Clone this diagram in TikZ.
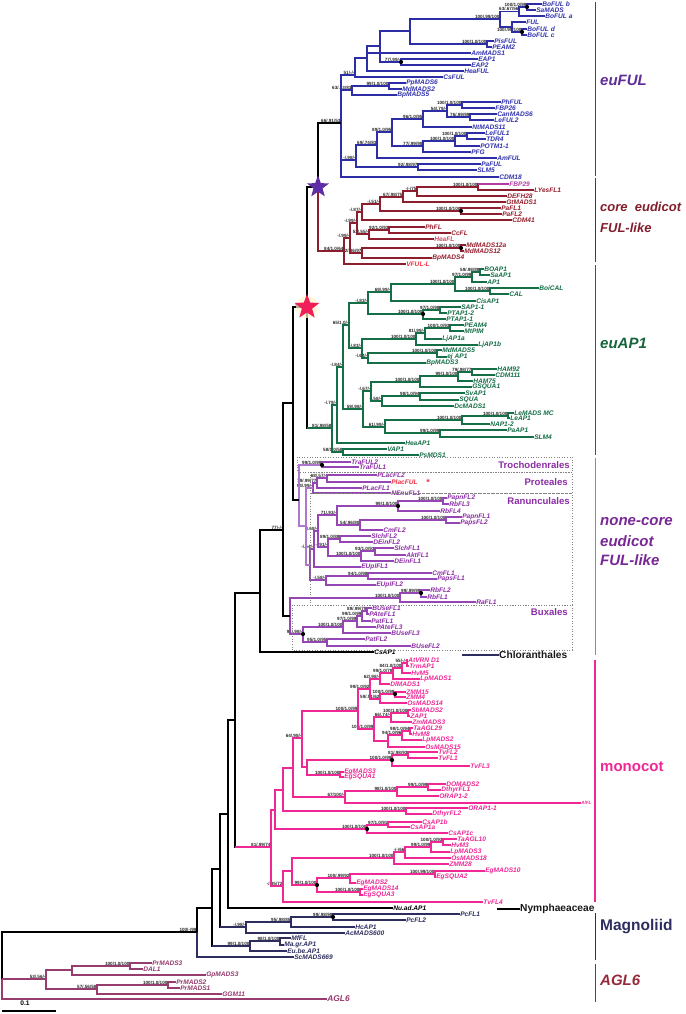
\documentclass[tikz,border=0pt]{standalone}
\usepackage{fontspec}
\setmainfont{Liberation Sans}
\usetikzlibrary{shapes.geometric}
\definecolor{cFUL}{RGB}{45,45,165}
\definecolor{cFULt}{RGB}{50,50,175}
\definecolor{cCore}{RGB}{140,30,45}
\definecolor{cCoreT}{RGB}{150,30,45}
\definecolor{cFBP}{RGB}{180,60,160}
\definecolor{cAP}{RGB}{20,110,70}
\definecolor{cNC}{RGB}{150,70,180}
\definecolor{cNCl}{RGB}{175,120,205}
\definecolor{cNCt}{RGB}{140,45,165}
\definecolor{cMono}{RGB}{240,40,150}
\definecolor{cMag}{RGB}{45,45,95}
\definecolor{cGym}{RGB}{150,60,110}
\definecolor{cRed}{RGB}{240,50,70}
\definecolor{cStarP}{RGB}{95,45,165}
\definecolor{cStarR}{RGB}{240,30,90}
\definecolor{cBox}{RGB}{130,130,130}
\definecolor{cBarNC}{RGB}{160,120,200}
\definecolor{lFUL}{RGB}{95,45,150}
\definecolor{lCore}{RGB}{130,30,45}
\definecolor{lAP}{RGB}{20,100,60}
\definecolor{lNC}{RGB}{120,40,150}
\definecolor{lAGL}{RGB}{150,40,60}
\newcommand\mkn[4]{\coordinate (#1) at (#2,#3);\node[sup] (#1s) at (#2,#3) {#4};}
\newcommand\mkc[3]{\coordinate (#1) at (#2,#3);}
\newcommand\lfn[5][]{\node[lf,#1] (#2) at ({#3-1.5},#4) {#5};}
\newcommand\clade[4][]{\draw[br,#1] (#3) -| (#2) |- (#4);}
\newcommand\addc[3][]{\draw[br,#1] (#2 |- #3) -- (#3);}
\newcommand\dotn[1]{\fill[black] (#1) circle (2.1);}
\begin{document}
\begin{tikzpicture}[x=1pt,y=-1pt,
  br/.style={line width=1.1pt},
  lf/.style={anchor=west, inner xsep=0.6pt, inner ysep=0pt, font=\fontsize{6.6}{7}\selectfont\bfseries\itshape},
  sup/.style={anchor=south east, inner sep=0.4pt, font=\fontsize{4.6}{5}\selectfont\bfseries, text=black!85},
  bar/.style={line width=1pt},
  cll/.style={anchor=west, inner sep=0pt, font=\fontsize{15}{17}\selectfont\bfseries\itshape},
  boxl/.style={anchor=east, inner sep=0pt, font=\fontsize{9.6}{11}\selectfont\bfseries, text=cNCt},
  grp/.style={anchor=west, inner sep=0pt, font=\fontsize{10.2}{12}\selectfont\bfseries},
  boxd/.style={draw=cBox, dotted, line width=0.6pt}]
\fill[white] (0,0) rectangle (685,1014);
\useasboundingbox (0,0) rectangle (685,1014);

% ---------------- leaves ----------------
\begin{scope}[lf/.append style={text=cFULt}]
\lfn{f1}{543}{4}{BoFUL b}
\lfn{f2}{537}{10}{SaMADS}
\lfn{f3}{546}{16}{BoFUL a}
\lfn{f4}{527}{22}{FUL}
\lfn{f5}{528}{29}{BoFUL d}
\lfn{f6}{528}{35}{BoFUL c}
\lfn{f7}{495}{41}{PisFUL}
\lfn{f8}{493}{47}{PEAM2}
\lfn{f9}{472}{53}{AmMADS1}
\lfn{f10}{479}{59}{EAP1}
\lfn{f11}{472}{65}{EAP2}
\lfn{f12}{465}{71}{HeaFUL}
\lfn{f13}{444}{77}{CsFUL}
\lfn{f14}{407}{83}{PpMADS6}
\lfn{f15}{403}{89}{MdMADS2}
\lfn{f16}{398}{95}{BpMADS5}
\lfn{f17}{502}{102}{PhFUL}
\lfn{f18}{496}{108}{FBP26}
\lfn{f19}{498}{114}{CanMADS6}
\lfn{f20}{495}{120}{LeFUL2}
\lfn{f21}{473}{127}{NtMADS11}
\lfn{f22}{486}{133}{LeFUL1}
\lfn{f23}{487}{139}{TDR4}
\lfn{f24}{481}{146}{POTM1-1}
\lfn{f25}{472}{152}{PFG}
\lfn{f26}{498}{158}{AmFUL}
\lfn{f27}{482}{164}{PaFUL}
\lfn{f28}{478}{170}{SLM5}
\lfn{f29}{500}{177}{CDM18}
\end{scope}
\begin{scope}[lf/.append style={text=cCoreT}]
\lfn[text=cFBP]{k1}{510}{184}{FBP29}
\lfn{k2}{535}{190}{LYesFL1}
\lfn{k3}{508}{196}{DEFH28}
\lfn{k4}{507}{202}{GtMADS1}
\lfn{k5}{502}{208}{PaFL1}
\lfn{k6}{503}{214}{PaFL2}
\lfn{k7}{513}{220}{CDM41}
\lfn{k8}{426}{227}{PhFL}
\lfn{k9}{452}{233}{CcFL}
\lfn[text={rgb,255:red,200;green,80;blue,100}]{k10}{435}{239}{HeaFL}
\lfn{k11}{467}{245}{MdMADS12a}
\lfn{k12}{465}{251}{MdMADS12}
\lfn{k13}{433}{258}{BpMADS4}
\lfn[text=cRed]{k14}{407}{264}{VFUL-L}
\end{scope}
\begin{scope}[lf/.append style={text=cAP}]
\lfn{a1}{485}{269}{BOAP1}
\lfn{a2}{491}{275}{SaAP1}
\lfn{a3}{488}{282}{AP1}
\lfn{a4}{540}{288}{BoiCAL}
\lfn{a5}{510}{294}{CAL}
\lfn{a6}{477}{301}{CisAP1}
\lfn{a7}{462}{307}{SAP1-1}
\lfn{a8}{448}{313}{PTAP1-2}
\lfn{a9}{447}{319}{PTAP1-1}
\lfn{a10}{465}{325}{PEAM4}
\lfn{a11}{465}{331}{MtPIM}
\lfn{a12}{443}{339}{LjAP1a}
\lfn{a13}{479}{345}{LjAP1b}
\lfn{a14}{443}{350}{MdMADS5}
\lfn{a15}{448}{357}{ej AP1}
\lfn{a16}{427}{363}{BpMADS3}
\lfn{a17}{498}{369}{HAM92}
\lfn{a18}{496}{375}{CDM111}
\lfn{a19}{474}{381}{HAM75}
\lfn{a20}{473}{387}{GSQUA1}
\lfn{a21}{466}{393}{SvAP1}
\lfn{a22}{460}{400}{SQUA}
\lfn{a23}{455}{406}{DcMADS1}
\lfn{a24}{515}{413}{LeMADS MC}
\lfn{a25}{511}{418}{LeAP1}
\lfn{a26}{491}{424}{NAP1-2}
\lfn{a27}{508}{430}{PaAP1}
\lfn{a28}{535}{437}{SLM4}
\lfn{a29}{406}{443}{HeaAP1}
\lfn{a30}{388}{449}{VAP1}
\lfn{a31}{420}{455}{PsMDS1}
\end{scope}
\begin{scope}[lf/.append style={text=cNCt}]
\lfn{n1}{352}{462}{TraFUL2}
\lfn{n2}{360}{467}{TraFUL1}
\lfn{n3}{378}{475}{PLacFL2}
\lfn[text=cRed]{n4}{392}{482}{PlacFUL}
\lfn{n5}{363}{488}{PLacFL1}
\lfn{n6}{392}{493}{NEnuFL1}
\lfn{n7}{448}{498}{PapnFL2}
\lfn{n8}{450}{504}{RbFL3}
\lfn{n9}{441}{511}{RbFL4}
\lfn{n10}{463}{517}{PapnFL1}
\lfn{n11}{461}{523}{PapsFL2}
\lfn{n12}{384}{530}{CmFL2}
\lfn{n13}{372}{536}{SlchFL2}
\lfn{n14}{374}{542}{DEinFL2}
\lfn{n15}{395}{548}{SlchFL1}
\lfn{n16}{407}{555}{AktFL1}
\lfn{n17}{395}{561}{DEinFL1}
\lfn{n18}{362}{567}{EUplFL1}
\lfn{n19}{433}{573}{CmFL1}
\lfn{n20}{438}{579}{PapsFL1}
\lfn{n21}{377}{585}{EUplFL2}
\lfn{n22}{431}{590}{RbFL2}
\lfn{n23}{428}{597}{RbFL1}
\lfn{n24}{477}{602}{RaFL1}
\lfn{n25}{373}{608}{BUseFL1}
\lfn{n26}{370}{614}{PAteFL1}
\lfn{n27}{372}{621}{PatFL1}
\lfn{n28}{377}{627}{PAteFL3}
\lfn{n29}{392}{633}{BUseFL3}
\lfn{n30}{366}{639}{PatFL2}
\lfn{n31}{412}{646}{BUseFL2}
\end{scope}
\node[text=cRed, inner sep=0pt, font=\fontsize{9}{9}\selectfont\bfseries] (ast) at (428,482) {*};
\begin{scope}[lf/.append style={text=cMono}]
\lfn{o1}{409}{660}{AtVRN D1}
\lfn{o2}{410}{666}{TrmAP1}
\lfn{o3}{412}{673}{HvM5}
\lfn{o4}{421}{679}{LpMADS1}
\lfn{o5}{391}{684}{DlMADS1}
\lfn{o6}{407}{692}{ZMM15}
\lfn{o7}{407}{697}{ZMM4}
\lfn{o8}{408}{703}{OsMADS14}
\lfn{o9}{412}{710}{SbMADS2}
\lfn{o10}{411}{716}{ZAP1}
\lfn{o11}{413}{722}{ZmMADS3}
\lfn{o12}{414}{728}{TaAGL29}
\lfn{o13}{413}{734}{HvM8}
\lfn{o14}{423}{740}{LpMADS2}
\lfn{o15}{426}{747}{OsMADS15}
\lfn{o16}{439}{752}{TvFL2}
\lfn{o17}{439}{758}{TvFL1}
\lfn{o18}{471}{766}{TvFL3}
\lfn{o19}{345}{772}{EgMADS3}
\lfn{o20}{345}{777}{EgSQUA1}
\lfn{o21}{447}{784}{DOMADS2}
\lfn{o22}{442}{790}{DthyrFL1}
\lfn{o23}{440}{796}{ORAP1-2}
\lfn[font=\fontsize{4.6}{5}\selectfont\bfseries\itshape]{o24}{582}{803}{AlFL}
\lfn{o25}{469}{808}{ORAP1-1}
\lfn{o26}{433}{814}{DthyrFL2}
\lfn{o27}{423}{822}{CsAP1b}
\lfn{o28}{411}{827}{CsAP1a}
\lfn{o29}{449}{833}{CsAP1c}
\lfn{o30}{458}{839}{TaAGL10}
\lfn{o31}{452}{845}{HvM3}
\lfn{o32}{451}{852}{LpMADS3}
\lfn{o33}{452}{858}{OsMADS18}
\lfn{o34}{450}{864}{ZMM28}
\lfn{o35}{486}{871}{EgMADS10}
\lfn{o36}{437}{877}{EgSQUA2}
\lfn{o37}{357}{883}{EgMADS2}
\lfn{o38}{364}{889}{EgMADS14}
\lfn{o39}{364}{895}{EgSQUA3}
\lfn{o40}{484}{902}{TvFL4}
\end{scope}
\begin{scope}[lf/.append style={text=cMag}]
\lfn[text=black]{z1}{394}{908}{Nu.ad.AP1}
\lfn{z2}{461}{914}{PcFL1}
\lfn{z3}{407}{920}{PcFL2}
\lfn{z4}{356}{927}{HcAP1}
\lfn{z5}{346}{933}{AcMADS600}
\lfn{z6}{292}{938}{MfFL}
\lfn{z7}{285}{945}{Ma.gr.AP1}
\lfn{z8}{288}{951}{Eu.be.AP1}
\lfn{z9}{295}{957}{ScMADS669}
\lfn[text=black]{cs}{375}{652}{CsAP1}
\end{scope}
\begin{scope}[lf/.append style={text=cGym}]
\lfn{y1}{153}{963}{PrMADS3}
\lfn{y2}{144}{969}{DAL1}
\lfn{y3}{207}{975}{GpMADS3}
\lfn{y4}{177}{982}{PrMADS2}
\lfn{y5}{181}{988}{PrMADS1}
\lfn{y6}{223}{994}{GGM11}
\lfn[font=\fontsize{8.4}{9}\selectfont\bfseries\itshape]{y7}{328}{999}{AGL6}
\end{scope}

% ---------------- internal nodes ----------------
\mkn{e1}{527}{7}{100/1.0/99}
\mkn{e2}{519}{11.5}{63/.67/56}
\mkn{e3}{522}{32}{100/.99/100}
\mkc{e4}{512}{27}
\mkn{e5}{500}{19}{100/.99/100}
\mkn{e6}{487}{44}{100/1.0/100}
\mkn{e7}{401}{62}{77/.99/-}
\mkc{e8}{410}{31}
\mkc{e13}{380}{46}
\mkc{e14}{367}{58}
\mkn{e15}{355}{75}{51/-/-}
\mkn{e16}{389}{86}{99/1.0/100}
\mkn{e17}{352}{90}{63/.83/83}
\mkn{e20}{462}{105}{100/1.0/100}
\mkn{e21}{470}{117}{76/.99/99}
\mkn{e22}{447}{111}{54/.79/-}
\mkn{e23}{423}{119}{96/1.0/95}
\mkn{e24}{467}{136}{100/1.0/100}
\mkn{e25}{455}{141}{100/1.0/100}
\mkn{e26}{423}{146}{77/.99/98}
\mkn{e27}{392}{132}{89/1.0/95}
\mkn{e28}{377}{145}{69/.74/83}
\mkn{e29}{418}{167}{92/.98/97}
\mkn{e30}{356}{160}{-/.98/-}
\mkn{e31}{341}{123}{66/.91/53}

\mkn{c1}{478}{187}{100/1.0/100}
\mkn{c2}{417}{191}{-/-/75}
\mkn{c3}{403}{197}{67/.98/75}
\mkn{c5}{461}{211}{100/1.0/100}
\mkn{c4}{380}{204}{-/.51/-}
\mkn{c6}{362}{212}{-/.87/-}
\mkn{c7}{389}{230}{92/1.0/93}
\mkn{c8}{369}{234}{53/.55/-}
\mkn{c9}{357}{223}{-/.99/-}
\mkn{c10}{461}{248}{100/1.0/100}
\mkn{c11}{362}{253}{72/.86/97}
\mkn{cN}{350}{238}{-/.99/-}
\mkn{c12}{344}{251}{84/1.0/64}

\mkn{g1}{480}{272}{59/.98/88}
\mkn{g2}{472}{277}{97/1.0/99}
\mkn{g4}{490}{291}{100/1.0/100}
\mkn{g3}{455}{284}{100/1.0/100}
\mkn{g5}{391}{292}{69/.99/-}
\mkn{g6}{440}{310}{97/1.0/98}
\mkn{g7}{423}{314}{100/1.0/100}
\mkn{g8}{368}{303}{-/.83/-}
\mkn{g9}{450}{328}{100/1.0/93}
\mkn{g10}{425}{333}{81/.99/-}
\mkn{g11}{416}{339}{100/1.0/100}
\mkn{g12}{437}{353}{100/1.0/100}
\mkn{g13}{368}{358}{-/.64/-}
\mkn{g14}{362}{348}{-/.83/-}
\mkn{g15}{349}{325}{65/1.0/-}
\mkn{g16}{472}{372}{79/.98/77}
\mkn{g17}{458}{376}{99/1.0/100}
\mkn{g18}{420}{382}{100/1.0/100}
\mkn{g19}{420}{396}{98/1.0/94}
\mkn{g20}{382}{401}{-/.58/-}
\mkn{g21}{371}{391}{-/.67/-}
\mkn{g22}{508}{416}{100/1.0/100}
\mkn{g23}{462}{420}{100/1.0/100}
\mkn{g24}{440}{433}{99/1.0/99}
\mkn{g25}{385}{427}{61/.99/-}
\mkn{g26}{363}{409}{59/.98/-}
\mkn{g27}{343}{367}{-/.84/-}
\mkn{g28}{337}{405}{-/.79/-}
\mkn{g29}{343}{452}{58/1.0/58}
\mkn{g30}{332}{428}{81/.98/58}

\mkn{p1}{322}{465}{99/1.0/99}
\mkn{p2}{327}{478}{68/.57/-}
\mkn{p3}{317}{483}{79/.99/77}
\mkn{p4}{313}{488}{94/.99/-}
\mkn{r1}{443}{501}{100/1.0/100}
\mkn{r2}{398}{506}{99/1.0/100}
\mkn{r3}{446}{520}{100/1.0/100}
\mkn{r4}{360}{525}{54/.96/80}
\mkn{r5}{337}{515}{71/.93/-}
\mkn{r6}{340}{539}{89/1.0/88}
\mkn{r7}{375}{551}{93/1.0/93}
\mkn{r8}{361}{556}{100/1.0/100}
\mkn{r9}{328}{547}{-/.91/-}
\mkn{r10}{318}{531}{-/.68/-}
\mkn{r11}{314}{549}{-/.54/-}
\mkn{r12}{368}{576}{94/1.0/98}
\mkn{r13}{326}{580}{-/.58/-}
\mkc{r14}{310}{565}
\mkc{p5}{306}{526}
\mkc{p6}{299}{500}
\mkn{b1}{421}{593}{99/.99/99}
\mkn{b2}{400}{598}{100/1.0/100}
\mkn{x1}{367}{611}{89/.99/79}
\mkn{x2}{362}{616}{99/1.0/99}
\mkn{x3}{357}{621}{97/1.0/99}
\mkn{x4}{343}{627}{100/1.0/100}
\mkn{x5}{327}{642}{95/1.0/95}
\mkn{x6}{303}{634}{91/.98/-}
\mkc{b3}{290}{616}

\mkn{mo1}{407}{663}{55/-/-}
\mkn{mo2}{402}{668}{84/1.0/100}
\mkn{mo3}{393}{673}{99/1.0/78}
\mkn{mo4}{380}{679}{62/.98/-}
\mkn{mo5}{395}{694}{100/1.0/99}
\mkn{mo6}{380}{699}{59/.91/62}
\mkn{mU}{370}{689}{99/1.0/92}
\mkn{mo8}{408}{713}{100/1.0/100}
\mkn{mo9}{391}{717}{66/.74/-}
\mkn{mo10}{410}{731}{98/1.0/94}
\mkn{mo11}{402}{735}{94/1.0/96}
\mkc{mo11b}{388}{741}
\mkn{mL}{374}{729}{100/1.0/99}
\mkn{mA}{358}{711}{100/1.0/99}
\mkn{mo17}{408}{755}{81/.98/93}
\mkn{mo18}{392}{760}{100/1.0/99}
\mkn{mo20}{340}{775}{100/1.0/100}
\mkc{mo21}{307}{767}
\mkn{mo22}{302}{738}{64/.98/-}
\mkn{mo23}{428}{787}{99/1.0/99}
\mkn{mo24}{397}{791}{98/1.0/100}
\mkn{mo25}{345}{797}{67/100/-}
\mkc{mo26}{293}{768}
\mkn{mo27}{406}{811}{100/1.0/100}
\mkc{mo28}{283}{790}
\mkn{mo29}{388}{825}{97/1.0/91}
\mkn{mo30}{367}{829}{100/1.0/100}
\mkc{mo31}{275}{810}
\mkn{mo32}{443}{842}{100/1.0/93}
\mkn{mo33}{431}{847}{99/1.0/99}
\mkn{mo34}{405}{852}{-/-/66}
\mkn{mo35}{394}{858}{100/1.0/100}
\mkn{mo36}{435}{874}{100/.99/100}
\mkn{mo37}{350}{878}{100/.99/92}
\mkn{mo38}{360}{892}{100/1.0/100}
\mkn{mo39}{317}{885}{99/1.0/100}
\mkc{mo40}{292}{871}
\mkn{mo41}{283}{886}{-/.95/72}
\mkn{M0}{271}{847}{81/.99/74}

\mkn{m1}{333}{917}{99/.98/98}
\mkn{m2}{291}{922}{95/.98/85}
\mkn{m3}{246}{927}{-/.98/-}
\mkn{m4}{280}{941}{98/1.0/100}
\mkn{m5}{250}{946}{99/1.0/100}

\mkn{G3}{130}{966}{100/1.0/100}
\mkc{G2}{72}{970}
\mkn{G5}{168}{985}{100/1.0/100}
\mkn{G4}{97}{989}{57/.56/58}
\mkn{G1}{46}{979}{53/.56/-}

\mkc{S1}{318}{187}
\mkn{S2}{307}{307}{67/-/-}
\mkc{S3}{293}{403}
\mkn{S4}{283}{530}{77/-/-}
\mkc{S5}{260}{593}
\mkc{S6}{235}{720}
\mkc{S7}{228}{814}
\mkc{S8}{220}{869}
\mkc{S9}{212}{908}
\mkn{S10}{197}{932}{100/-/99}
\mkc{R}{2}{979}

% ---------------- branches ----------------
\begin{scope}[color=cFUL]
\clade{e1}{f1.west}{f2.west}
\clade{e2}{e1}{f3.west}
\clade{e3}{f5.west}{f6.west}
\clade{e4}{f4.west}{e3}
\clade{e5}{e2}{e4}
\clade{e6}{f7.west}{f8.west}
\clade{e7}{f10.west}{f11.west}
\clade{e8}{e5}{e6}
\clade{e13}{e8}{e7}
\clade{e14}{e13}{f12.west}
\addc{e14}{f9.west}
\clade{e15}{e14}{f13.west}
\clade{e16}{f14.west}{f15.west}
\clade{e17}{e16}{f16.west}
\clade{e20}{f17.west}{f18.west}
\clade{e21}{f19.west}{f20.west}
\clade{e22}{e20}{e21}
\clade{e23}{e22}{f21.west}
\clade{e24}{f22.west}{f23.west}
\clade{e25}{e24}{f24.west}
\clade{e26}{e25}{f25.west}
\clade{e27}{e23}{e26}
\clade{e28}{e27}{f26.west}
\clade{e29}{f27.west}{f28.west}
\clade{e30}{e28}{e29}
\clade{e31}{e15}{f29.west}
\addc{e31}{e17}
\addc{e31}{e30}
\end{scope}

\begin{scope}[color=cCore]
\clade{c1}{k1.west}{k2.west}
\draw[br,cFBP] (c1 |- k1.west) -- (k1.west);
\clade{c2}{c1}{k3.west}
\clade{c3}{c2}{k4.west}
\clade{c5}{k5.west}{k6.west}
\clade{c4}{c3}{c5}
\clade{c6}{c4}{k7.west}
\clade{c7}{k8.west}{k9.west}
\clade{c8}{c7}{k10.west}
\clade{c9}{c6}{c8}
\clade{c10}{k11.west}{k12.west}
\clade{c11}{c10}{k13.west}
\clade{cN}{c9}{c11}
\clade{c12}{cN}{k14.west}
\end{scope}

\begin{scope}[color=cAP]
\clade{g1}{a1.west}{a2.west}
\clade{g2}{g1}{a3.west}
\clade{g4}{a4.west}{a5.west}
\clade{g3}{g2}{g4}
\clade{g5}{g3}{a6.west}
\clade{g6}{a7.west}{a8.west}
\clade{g7}{g6}{a9.west}
\clade{g8}{g5}{g7}
\clade{g9}{a10.west}{a11.west}
\clade{g10}{g9}{a12.west}
\clade{g11}{g10}{a13.west}
\clade{g12}{a14.west}{a15.west}
\clade{g13}{g12}{a16.west}
\clade{g14}{g11}{g13}
\clade{g15}{g8}{g14}
\clade{g16}{a17.west}{a18.west}
\clade{g17}{g16}{a19.west}
\clade{g18}{g17}{a20.west}
\clade{g19}{a21.west}{a22.west}
\clade{g20}{g19}{a23.west}
\clade{g21}{g18}{g20}
\clade{g22}{a24.west}{a25.west}
\clade{g23}{g22}{a26.west}
\clade{g24}{a27.west}{a28.west}
\clade{g25}{g23}{g24}
\clade{g26}{g21}{g25}
\clade{g27}{g15}{g26}
\clade{g28}{g27}{a29.west}
\clade{g29}{a30.west}{a31.west}
\clade{g30}{g28}{g29}
\end{scope}

\begin{scope}[color=cNC]
\clade{p1}{n1.west}{n2.west}
\clade{p2}{n3.west}{n4.west}
\clade{p3}{p2}{n5.west}
\clade{p4}{p3}{n6.west}
\clade{r1}{n7.west}{n8.west}
\clade{r2}{r1}{n9.west}
\clade{r3}{n10.west}{n11.west}
\clade{r4}{r3}{n12.west}
\clade{r5}{r2}{r4}
\clade{r6}{n13.west}{n14.west}
\clade{r7}{n15.west}{n16.west}
\clade{r8}{r7}{n17.west}
\clade{r9}{r6}{r8}
\clade{r10}{r5}{r9}
\clade{r11}{r10}{n18.west}
\clade{r12}{n19.west}{n20.west}
\clade{r13}{r12}{n21.west}
\clade{r14}{r11}{r13}
\clade[cNCl]{p5}{p4}{r14}
\clade[cNCl]{p6}{p1}{p5}
\clade{b1}{n22.west}{n23.west}
\clade{b2}{b1}{n24.west}
\clade{x1}{n25.west}{n26.west}
\clade{x2}{x1}{n27.west}
\clade{x3}{x2}{n28.west}
\clade{x4}{x3}{n29.west}
\clade{x5}{n30.west}{n31.west}
\clade{x6}{x4}{x5}
\clade{b3}{b2}{x6}
\end{scope}

\begin{scope}[color=cMono]
\clade{mo1}{o1.west}{o2.west}
\clade{mo2}{mo1}{o3.west}
\clade{mo3}{mo2}{o4.west}
\clade{mo4}{mo3}{o5.west}
\clade{mo5}{o6.west}{o7.west}
\clade{mo6}{mo5}{o8.west}
\clade{mU}{mo4}{mo6}
\clade{mo8}{o9.west}{o10.west}
\clade{mo9}{mo8}{o11.west}
\clade{mo10}{o12.west}{o13.west}
\clade{mo11}{mo10}{o14.west}
\clade{mo11b}{mo11}{o15.west}
\clade{mL}{mo9}{mo11b}
\clade{mA}{mU}{mL}
\clade{mo17}{o16.west}{o17.west}
\clade{mo18}{mo17}{o18.west}
\clade{mo20}{o19.west}{o20.west}
\clade{mo21}{mo18}{mo20}
\clade{mo22}{mA}{mo21}
\clade{mo23}{o21.west}{o22.west}
\clade{mo24}{mo23}{o23.west}
\clade{mo25}{mo24}{o24.west}
\clade{mo26}{mo22}{mo25}
\clade{mo27}{o25.west}{o26.west}
\clade{mo28}{mo26}{mo27}
\clade{mo29}{o27.west}{o28.west}
\clade{mo30}{mo29}{o29.west}
\clade{mo31}{mo28}{mo30}
\clade{mo32}{o30.west}{o31.west}
\clade{mo33}{mo32}{o32.west}
\clade{mo34}{mo33}{o33.west}
\clade{mo35}{mo34}{o34.west}
\clade{mo36}{o35.west}{o36.west}
\clade{mo37}{mo36}{o37.west}
\clade{mo38}{o38.west}{o39.west}
\clade{mo39}{mo37}{mo38}
\clade{mo40}{mo35}{mo39}
\clade{mo41}{mo40}{o40.west}
\clade{M0}{mo31}{mo41}
\end{scope}

\begin{scope}[color=cMag]
\clade{m1}{z2.west}{z3.west}
\clade{m2}{m1}{z4.west}
\clade{m3}{m2}{z5.west}
\clade{m4}{z6.west}{z7.west}
\clade{m5}{m4}{z8.west}
\end{scope}

\begin{scope}[color=cGym]
\clade{G3}{y1.west}{y2.west}
\clade{G2}{G3}{y3.west}
\clade{G5}{y4.west}{y5.west}
\clade{G4}{G5}{y6.west}
\clade{G1}{G2}{G4}
\end{scope}

% backbone
\draw[br,black] (e31) -| (S1);
\draw[br,cCore] (S1) |- (c12);
\draw[br,black] (S1) -| (S2) |- (g30);
\draw[br,cAP] (S2 |- g30) -- (g30);
\draw[br,black] (S2) -| (S3) |- (p6);
\draw[br,black] (S3) -| (S4) |- (b3);
\draw[br,black] (S4) -| (S5) |- (cs.west);
\draw[br,black] (S5) -| (S6) |- (M0);
\draw[br,cMono] (S6 |- M0) -- (M0);
\draw[br,black] (S6) -| (S7) |- (z1.west);
\draw[br,black] (S7) -| (S8) |- (m3);
\draw[br,cMag] (S8 |- m3) -- (m3);
\draw[br,black] (S8) -| (S9) |- (m5);
\draw[br,cMag] (S9 |- m5) -- (m5);
\draw[br,black] (S9) -| (S10);
\draw[br,cMag] (S10) |- (z9.west);
\draw[br,black] (S10) -| (R);
\draw[br,cGym] (R) |- (y7.west);
\draw[br,cGym] (R) -- (G1);

% dots
\dotn{e1}\dotn{e3}\dotn{e7}\dotn{c5}\dotn{c10}\dotn{g7}\dotn{p1}\dotn{r2}
\dotn{b1}\dotn{x6}\dotn{mo5}\dotn{mo18}\dotn{mo30}\dotn{mo39}\dotn{m1}

% stars
\node[star, star points=5, star point ratio=2.4, fill=cStarP, inner sep=0pt, minimum size=23pt] (starP) at (S1) {};
\node[circle, fill={rgb,255:red,255;green,245;blue,200}, inner sep=0pt, minimum size=22pt, opacity=0.7] (glow) at (S2) {};
\node[star, star points=5, star point ratio=2.4, fill=cStarR, inner sep=0pt, minimum size=26pt] (starR) at (S2) {};

% dotted boxes and their labels
\draw[boxd] (297,457) rectangle (572,472);
\draw[boxd] (310,472) rectangle (572,493);
\draw[boxd] (310,493) rectangle (572,605);
\draw[boxd] (292,605) rectangle (572,650);
\node[boxl] (trochL) at (570,465) {Trochodenrales};
\node[boxl] (protL) at (568,482) {Proteales};
\node[boxl] (ranL) at (570,501) {Ranunculales};
\node[boxl] (buxL) at (568,612) {Buxales};

% group labels with short leaders
\coordinate (chlA) at (462,655);
\node[grp, text=black!90] (chlor) at (499,655) {Chloranthales};
\draw[br,cMag] (chlA) -- (chlor.west);
\coordinate (nymA) at (497,909);
\node[grp, text=black!90] (nymph) at (520,909) {Nymphaeaceae};
\draw[br,black] (nymA) -- (nymph.west);

% clade bars
\draw[bar,lFUL] (595,2) -- (595,176);
\draw[bar,lCore] (595,178) -- (595,262);
\draw[bar,cAP] (595,265) -- (595,455);
\draw[bar,cBarNC] (595,458) -- (595,655);
\draw[line width=1.6pt,cMono] (595,660) -- (595,902);
\draw[bar,cMag] (595,913) -- (595,960);
\draw[bar,lAGL] (595,964) -- (595,1002);

\node[cll, text=lFUL] (LeuFUL) at (600,80) {euFUL};
\node[cll, text=lCore, font=\fontsize{13}{15}\selectfont\bfseries\itshape] (Lcore1) at (600,207) {core\ \ eudicot};
\node[cll, text=lCore, font=\fontsize{13}{15}\selectfont\bfseries\itshape] (Lcore2) at (600,228) {FUL-like};
\node[cll, text=lAP] (LeuAP) at (600,343) {euAP1};
\node[cll, text=lNC] (Lnc1) at (600,522) {none-core};
\node[cll, text=lNC] (Lnc2) at (600,541) {eudicot};
\node[cll, text=lNC] (Lnc3) at (600,560) {FUL-like};
\node[cll, text=cMono, font=\fontsize{15}{17}\selectfont\bfseries] (Lmono) at (600,767) {monocot};
\node[cll, text=cMag, font=\fontsize{15.5}{17}\selectfont\bfseries] (Lmag) at (600,927) {Magnoliid};
\node[cll, text=lAGL] (Lagl) at (600,980) {AGL6};

% scale bar
\coordinate (sbA) at (2,1011);
\coordinate (sbB) at (56,1011);
\draw[line width=1.3pt] (sbA) -- (sbB);
\node[inner sep=0pt, font=\fontsize{6.6}{7}\selectfont\bfseries] (sbl) at (25,1003) {0.1};
\end{tikzpicture}
\end{document}
